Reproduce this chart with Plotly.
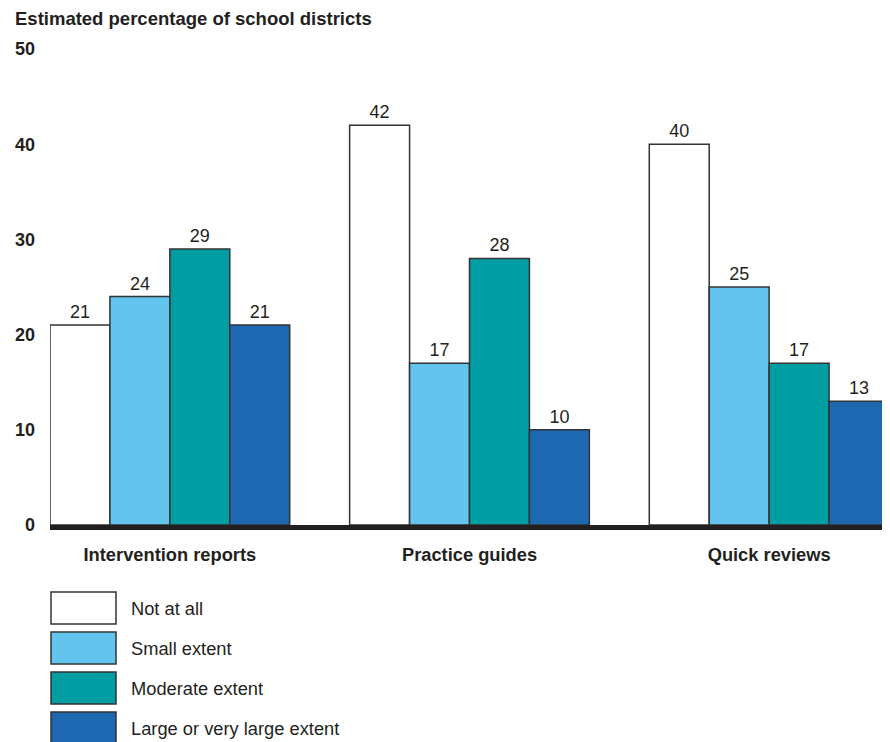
import plotly.graph_objects as go

categories = ["Intervention reports", "Practice guides", "Quick reviews"]
series_names = ["Not at all", "Small extent", "Moderate extent", "Large or very large extent"]
not_at_all = [21, 42, 40]
small_extent = [24, 17, 25]
moderate_extent = [29, 28, 17]
large_extent = [21, 10, 13]
series_values = [not_at_all, small_extent, moderate_extent, large_extent]
colors = ["#ffffff", "#63c5ee", "#009da3", "#1d68b1"]
y_ticks = [0, 10, 20, 30, 40, 50]

# page body has an 8px margin, so the figure is drawn 8px smaller
W, H = 882, 734
L, R, T, B = 42, 1, 41, 217
FONT = "Arial, Liberation Sans, sans-serif"
TXT = "#231f20"

fig = go.Figure()
for name, vals, col in zip(series_names, series_values, colors):
    fig.add_trace(go.Bar(
        x=categories, y=vals, name=name,
        marker=dict(color=col, line=dict(color="#333333", width=1.5)),
        text=[str(v) for v in vals], textposition="outside",
        textfont=dict(family=FONT, size=18, color=TXT),
        cliponaxis=False, showlegend=False,
    ))

pw, ph = W - L - R, H - T - B
def px2x(px):
    return (px - L) / pw
def py2y(py):
    return (H - B - py) / ph

shapes = []
annotations = []
for i, (name, col) in enumerate(zip(series_names, colors)):
    top = 584 + 40 * i
    shapes.append(dict(type="rect", xref="paper", yref="paper",
                       x0=px2x(43), x1=px2x(108), y0=py2y(top), y1=py2y(top + 32),
                       fillcolor=col, line=dict(color="#333333", width=1.5)))
    annotations.append(dict(xref="paper", yref="paper", x=px2x(121), y=py2y(top + 16),
                            text=name, showarrow=False, xanchor="left", yanchor="middle",
                            font=dict(family=FONT, size=18.3, color=TXT)))

fig.update_layout(
    width=W, height=H,
    margin=dict(l=L, r=R, t=T, b=B, pad=0),
    paper_bgcolor="white", plot_bgcolor="white",
    barmode="group", bargap=0.2, bargroupgap=0,
    title=dict(text="<b>Estimated percentage of school districts</b>",
               x=7 / W, xref="container", xanchor="left",
               y=1 - 11 / H, yanchor="middle",
               font=dict(family=FONT, size=18.5, color=TXT)),
    xaxis=dict(range=[-0.4, 2.4], showgrid=False, zeroline=False,
               showline=True, linecolor="#231f20", linewidth=5,
               ticks="", tickfont=dict(family=FONT, size=18.3, color=TXT),
               tickvals=list(range(len(categories))),
               ticktext=["<b>%s</b>" % c for c in categories],
               ticklabelstandoff=9),
    yaxis=dict(range=[0, 50], tickvals=y_ticks,
               ticktext=["<b>%d</b>" % v for v in y_ticks],
               showgrid=False, zeroline=False, showline=False, ticks="",
               tickfont=dict(family=FONT, size=18, color=TXT),
               ticklabelstandoff=14),
    shapes=shapes, annotations=annotations,
)
fig.write_html("out.html")
